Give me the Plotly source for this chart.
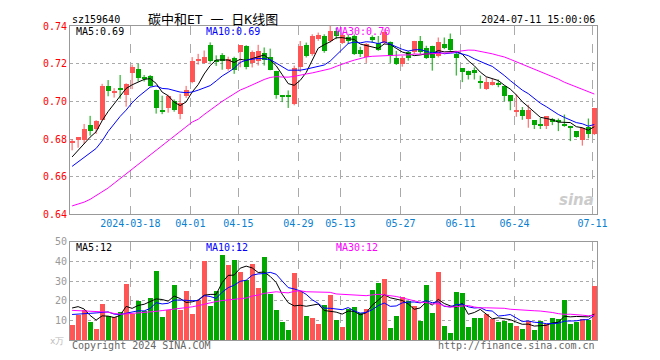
import plotly.graph_objects as go

# ---------------- data ----------------
dates = [
    "2024-03-04", "2024-03-05", "2024-03-06", "2024-03-07", "2024-03-08",
    "2024-03-11", "2024-03-12", "2024-03-13", "2024-03-14", "2024-03-15",
    "2024-03-18", "2024-03-19", "2024-03-20", "2024-03-21", "2024-03-22",
    "2024-03-25", "2024-03-26", "2024-03-27", "2024-03-28", "2024-03-29",
    "2024-04-01", "2024-04-02", "2024-04-03", "2024-04-08", "2024-04-09",
    "2024-04-10", "2024-04-11", "2024-04-12", "2024-04-15", "2024-04-16",
    "2024-04-17", "2024-04-18", "2024-04-19", "2024-04-22", "2024-04-23",
    "2024-04-24", "2024-04-25", "2024-04-26", "2024-04-29", "2024-04-30",
    "2024-05-06", "2024-05-07", "2024-05-08", "2024-05-09", "2024-05-10",
    "2024-05-13", "2024-05-14", "2024-05-15", "2024-05-16", "2024-05-17",
    "2024-05-20", "2024-05-21", "2024-05-22", "2024-05-23", "2024-05-24",
    "2024-05-27", "2024-05-28", "2024-05-29", "2024-05-30", "2024-05-31",
    "2024-06-03", "2024-06-04", "2024-06-05", "2024-06-06", "2024-06-07",
    "2024-06-11", "2024-06-12", "2024-06-13", "2024-06-14", "2024-06-17",
    "2024-06-18", "2024-06-19", "2024-06-20", "2024-06-21", "2024-06-24",
    "2024-06-25", "2024-06-26", "2024-06-27", "2024-06-28", "2024-07-01",
    "2024-07-02", "2024-07-03", "2024-07-04", "2024-07-05", "2024-07-08",
    "2024-07-09", "2024-07-10", "2024-07-11",
]

opens = [
    0.678, 0.6793, 0.6795, 0.6874, 0.6853, 0.690, 0.7082, 0.7045, 0.7065, 0.7033,
    0.7148, 0.7171, 0.7125, 0.7134, 0.7062, 0.6952, 0.6966, 0.7004, 0.6935, 0.7027,
    0.7101, 0.7213, 0.7206, 0.7301, 0.7222, 0.7245, 0.7172, 0.7230, 0.7260, 0.7295,
    0.7205, 0.7215, 0.7255, 0.7235, 0.7162, 0.7029, 0.7030, 0.6988, 0.7180, 0.7298,
    0.7251, 0.7330, 0.7347, 0.7321, 0.7374, 0.7309, 0.7339, 0.7347, 0.7274, 0.7233,
    0.7340, 0.7309, 0.7309, 0.7316, 0.7228, 0.7198, 0.7260, 0.7260, 0.7318, 0.7281,
    0.7295, 0.7239, 0.7307, 0.7330, 0.7251, 0.7175, 0.7163, 0.7167, 0.7106, 0.7067,
    0.7088, 0.7098, 0.7084, 0.7032, 0.6947, 0.6953, 0.6905, 0.6900, 0.6875, 0.6868,
    0.6909, 0.6900, 0.6874, 0.6867, 0.6842, 0.6795, 0.6865, 0.6825,
]
highs = [
    0.680, 0.681, 0.688, 0.6923, 0.690, 0.7093, 0.7113, 0.707, 0.714, 0.7096,
    0.7195, 0.720, 0.714, 0.714, 0.7062, 0.703, 0.7035, 0.701, 0.704, 0.7082,
    0.7235, 0.7252, 0.727, 0.7313, 0.7244, 0.7256, 0.7237, 0.7237, 0.7298, 0.7298,
    0.727, 0.730, 0.7286, 0.728, 0.7162, 0.703, 0.7058, 0.719, 0.732, 0.7312,
    0.7356, 0.7365, 0.7356, 0.740, 0.739, 0.7365, 0.7356, 0.7356, 0.729, 0.7309,
    0.735, 0.7347, 0.7382, 0.7318, 0.7268, 0.7242, 0.7268, 0.7321, 0.7347, 0.7295,
    0.7295, 0.7339, 0.7339, 0.736, 0.7268, 0.7175, 0.7163, 0.718, 0.7137, 0.7128,
    0.7119, 0.7116, 0.7084, 0.7032, 0.7039, 0.697, 0.6982, 0.690, 0.6912, 0.6921,
    0.6912, 0.6909, 0.693, 0.687, 0.6842, 0.686, 0.6909, 0.6965,
]
lows = [
    0.674, 0.6754, 0.6775, 0.6818, 0.6827, 0.6897, 0.7027, 0.702, 0.7014, 0.6972,
    0.7065, 0.7105, 0.7105, 0.7079, 0.6935, 0.6932, 0.694, 0.6945, 0.6905, 0.7018,
    0.7096, 0.7195, 0.720, 0.7206, 0.7188, 0.7168, 0.7163, 0.7146, 0.7181, 0.717,
    0.718, 0.719, 0.719, 0.7165, 0.7014, 0.6996, 0.6965, 0.6979, 0.7155, 0.7233,
    0.7242, 0.7321, 0.7258, 0.7312, 0.733, 0.7304, 0.7304, 0.7246, 0.7235, 0.7204,
    0.731, 0.7268, 0.7304, 0.7204, 0.7193, 0.7184, 0.7216, 0.7251, 0.7251, 0.7225,
    0.7163, 0.7233, 0.7277, 0.7268, 0.7137, 0.7102, 0.7116, 0.7116, 0.7067, 0.7061,
    0.7084, 0.7075, 0.700, 0.6953, 0.6918, 0.6902, 0.686, 0.6853, 0.6853, 0.6853,
    0.6874, 0.6842, 0.6865, 0.6789, 0.6807, 0.6765, 0.6804, 0.6821,
]
closes = [
    0.679, 0.681, 0.6851, 0.6844, 0.6897, 0.7084, 0.7053, 0.7052, 0.7062, 0.7092,
    0.718, 0.7126, 0.7122, 0.7084, 0.6966, 0.6948, 0.703, 0.6952, 0.6992, 0.7062,
    0.7212, 0.7226, 0.7235, 0.7213, 0.7213, 0.7212, 0.7225, 0.7168, 0.7298, 0.7185,
    0.7262, 0.7266, 0.722, 0.7165, 0.7032, 0.7026, 0.7028, 0.7175, 0.7295, 0.7242,
    0.7347, 0.7351, 0.7268, 0.7374, 0.7347, 0.7351, 0.7321, 0.7251, 0.7251, 0.7304,
    0.7325, 0.7274, 0.7368, 0.7242, 0.7198, 0.7228, 0.7228, 0.7318, 0.726, 0.7228,
    0.7228, 0.7316, 0.7281, 0.7274, 0.7228, 0.7154, 0.714, 0.7151, 0.7104, 0.7105,
    0.7105, 0.7088, 0.7028, 0.700, 0.6953, 0.6923, 0.6953, 0.6877, 0.6872, 0.6921,
    0.6888, 0.6891, 0.6872, 0.6865, 0.6812, 0.686, 0.6825, 0.6965,
]
# volume, in 万
volumes = [
    7.7, 13, 15.5, 9, 5.5, 18.5, 12.3, 12, 14.3, 28.5,
    13.5, 19.7, 15, 21.5, 35, 12, 15.5, 28, 15.2, 25,
    13.5, 20.2, 40.2, 17.2, 25.2, 43.5, 38.5, 41, 34.7, 30.5,
    39, 26.8, 42.2, 23.5, 15.2, 9, 5.2, 34, 25.2, 12.5,
    11.5, 8.3, 17.7, 23, 10.5, 6.5, 16, 17, 14, 16,
    25.5, 29, 31, 6, 12.5, 22.2, 20, 17.5, 9.5, 28,
    14, 34.5, 7, 3.5, 24.5, 24, 6.5, 11.5, 11.5, 13.5,
    11, 9, 10, 8.5, 7, 5.5, 9.5, 5, 9.5, 8,
    11.5, 11, 20.5, 8, 9, 11, 10.5, 27.5,
]

# leading moving-average values (window starts before the visible period)
price_ma5_lead = [0.6705, 0.674, 0.678, 0.681]
price_ma10_lead = [0.6655, 0.668, 0.670, 0.6725, 0.675, 0.679, 0.684, 0.688, 0.692]
price_ma30_lead = [
    0.6445, 0.6455, 0.6465, 0.648, 0.650, 0.652, 0.654, 0.6565, 0.659, 0.6615,
    0.664, 0.6665, 0.669, 0.6715, 0.674, 0.677, 0.679, 0.6815, 0.684, 0.6865,
    0.689, 0.6905, 0.693, 0.6955, 0.698, 0.700, 0.702, 0.704, 0.706,
]
vol_ma5_lead = [16.3, 17.0, 15.8, 12.5]
vol_ma10_lead = [13.0, 13.3, 13.6, 13.6, 13.8, 14.0, 14.3, 13.2, 12.9]
vol_ma30_lead = [
    15.1, 15.0, 14.8, 14.6, 14.5, 14.4, 14.2, 13.5, 13.2, 13.3,
    13.5, 13.8, 14.0, 14.3, 14.6, 15.0, 15.4, 15.7, 15.9, 16.3,
    16.9, 17.5, 18.3, 19.0, 19.6, 20.1, 20.5, 20.9, 21.2,
]

tick_dates = ["2024-03-18", "2024-04-01", "2024-04-15", "2024-04-29", "2024-05-13",
              "2024-05-27", "2024-06-11", "2024-06-24", "2024-07-11"]
tick_labels = ["2024-03-18", "04-01", "04-15", "04-29", "05-13",
               "05-27", "06-11", "06-24", "07-11"]
price_ticks = [0.64, 0.66, 0.68, 0.70, 0.72, 0.74]
vol_ticks = [10, 20, 30, 40, 50]

# ---------------- helpers ----------------
def moving_avg(vals, n, lead):
    out = list(lead)
    for i in range(len(lead), len(vals)):
        out.append(sum(vals[i - n + 1:i + 1]) / n)
    return out

RED = "#ff5555"
GREEN = "#00a800"
MONO = "DejaVu Sans Mono"

n = len(dates)
xs = list(range(n))
up = [closes[i] >= opens[i] for i in range(n)]

fig = go.Figure()

# wicks
for flag, col in ((True, RED), (False, GREEN)):
    wx, wy = [], []
    for i in range(n):
        if up[i] == flag:
            wx += [i, i, None]
            wy += [lows[i], highs[i], None]
    fig.add_trace(go.Scatter(x=wx, y=wy, mode="lines", line=dict(color=col, width=1),
                             hoverinfo="skip", showlegend=False, xaxis="x", yaxis="y"))

# bodies
MINH = 0.0005
for flag, col in ((True, RED), (False, GREEN)):
    bx, bb, bh = [], [], []
    for i in range(n):
        if up[i] == flag:
            lo = min(opens[i], closes[i])
            h = abs(closes[i] - opens[i])
            if h < MINH:
                lo -= (MINH - h) / 2
                h = MINH
            bx.append(i)
            bb.append(lo)
            bh.append(h)
    fig.add_trace(go.Bar(x=bx, y=bh, base=bb, width=0.8, marker=dict(color=col, line=dict(width=0)),
                         showlegend=False, xaxis="x", yaxis="y"))

# price MAs
for vals, col in ((moving_avg(closes, 5, price_ma5_lead), "#000000"),
                  (moving_avg(closes, 10, price_ma10_lead), "#0000ff"),
                  (moving_avg(closes, 30, price_ma30_lead), "#ff00ff")):
    fig.add_trace(go.Scatter(x=xs, y=vals, mode="lines", line=dict(color=col, width=1),
                             showlegend=False, xaxis="x", yaxis="y"))

# volume bars
for flag, col in ((True, RED), (False, GREEN)):
    vx = [i for i in range(n) if up[i] == flag]
    vy = [volumes[i] for i in vx]
    fig.add_trace(go.Bar(x=vx, y=vy, width=0.82, marker=dict(color=col, line=dict(width=0)),
                         showlegend=False, xaxis="x2", yaxis="y2"))

for vals, col in ((moving_avg(volumes, 5, vol_ma5_lead), "#000000"),
                  (moving_avg(volumes, 10, vol_ma10_lead), "#0000ff"),
                  (moving_avg(volumes, 30, vol_ma30_lead), "#ff00ff")):
    fig.add_trace(go.Scatter(x=xs, y=vals, mode="lines", line=dict(color=col, width=1),
                             showlegend=False, xaxis="x2", yaxis="y2"))

tickpos = [dates.index(d) - 0.3 for d in tick_dates]

# page layout (the page body has an 8px margin)
OFF = 8
PX0, PX1, PY0, PY1 = 70, 597, 20, 340          # plot area in page pixels
W, H = 660 - OFF, 360 - OFF
L, T = PX0 - OFF, PY0 - OFF
R, B = (W + OFF) - PX1, (H + OFF) - PY1
PW, PH = PX1 - PX0, PY1 - PY0


def pp(px, py):
    return (px - PX0) / PW, (PY1 - py) / PH


main_dom = [(PY1 - 212) / PH, 1.0]
vol_dom = [0.0, (PY1 - 240) / PH]

xcommon = dict(range=[-0.35, 87.45], tickvals=tickpos, showgrid=True, gridcolor="#aaaaaa",
               griddash="dash", gridwidth=1, showline=True, mirror=True, linecolor="#999999",
               linewidth=1, ticks="", zeroline=False)

fig.update_layout(
    width=W, height=H,
    margin=dict(l=L, r=R, t=T, b=B),
    paper_bgcolor="white", plot_bgcolor="white",
    barmode="overlay", bargap=0,
    showlegend=False,
    xaxis=dict(**xcommon, anchor="y", ticktext=tick_labels,
               tickfont=dict(family=MONO, size=10, color="#0a80d0")),
    yaxis=dict(domain=main_dom, range=[0.64, 0.74], tickvals=price_ticks,
               ticktext=["%.2f" % v for v in price_ticks],
               tickfont=dict(family=MONO, size=10, color="#ff0000"),
               showgrid=True, gridcolor="#aaaaaa", griddash="dot", gridwidth=1,
               showline=True, mirror=True, linecolor="#999999", linewidth=1,
               ticks="", zeroline=False),
    xaxis2=dict(**xcommon, anchor="y2", matches="x", showticklabels=False),
    yaxis2=dict(domain=vol_dom, range=[0, 50], tickvals=vol_ticks,
                ticktext=[str(v) for v in vol_ticks],
                tickfont=dict(family=MONO, size=10, color="#999999"),
                showgrid=True, gridcolor="#aaaaaa", griddash="dot", gridwidth=1,
                showline=True, mirror=True, linecolor="#999999", linewidth=1,
                ticks="", zeroline=False),
)

ann = []


def text(px, py, s, color="#000000", size=10, anchor="left", family=MONO):
    x, y = pp(px, py)
    ann.append(dict(x=x, y=y, xref="paper", yref="paper", text=s, showarrow=False,
                    xanchor=anchor, yanchor="middle",
                    font=dict(family=family, size=size, color=color)))


text(70, 13, "sz159640")
text(213, 13, "碳中和ET 一 日K线图", size=13, anchor="center",
     family="DejaVu Sans Mono, Noto Sans CJK SC")
text(597, 13, "2024-07-11 15:00:06", anchor="right")
text(74, 26, "MA5:0.69")
text(204, 26, "MA10:0.69", color="#0000ff")
text(334, 26, "MA30:0.70", color="#ff00ff")
text(74, 246, "MA5:12")
text(204, 246, "MA10:12", color="#0000ff")
text(334, 246, "MA30:12", color="#ff00ff")
text(70, 346, "Copyright 2024 SINA.COM", color="#666666")
text(597, 346, "http://finance.sina.com.cn", color="#666666", anchor="right")
text(66, 341, "x万", color="#bbbbbb", size=9, anchor="right")
text(596, 197, "<b><i>sina</i></b>", color="#cccccc", size=15, anchor="right", family="DejaVu Sans")

fig.update_layout(annotations=ann)

fig.write_html("out.html")
